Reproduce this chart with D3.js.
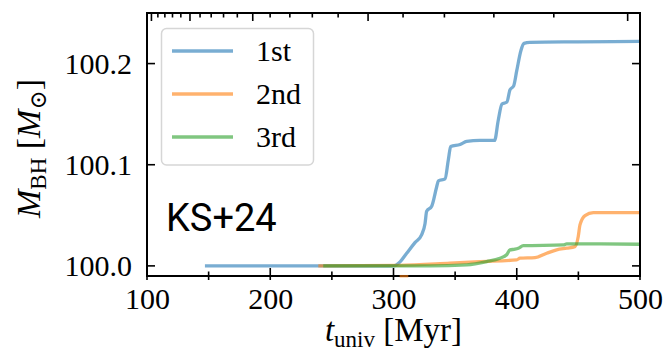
<!DOCTYPE html>
<html>
<head>
<meta charset="utf-8">
<script src="https://cdn.jsdelivr.net/npm/d3@7"></script>
<style>
  html, body { margin: 0; padding: 0; background: #fff; }
  svg { display: block; }
</style>
</head>
<body>
<svg id="chart" width="666" height="363"></svg>
<script>
// Black hole mass growth of the three most massive seeds (time in Myr)
const firstT  = [147, 300, 305.3, 310.7, 317.4, 322.9, 325.6, 326.9, 331, 335, 336.4, 341.8, 344.5, 346.4, 354, 359.4, 370, 382, 385, 388, 392, 394.5, 397.5, 400, 403.4, 405.9, 410.7, 450, 500];
const firstM  = [100, 100, 100.004, 100.0125, 100.023, 100.031, 100.042, 100.054, 100.059, 100.078, 100.084, 100.086, 100.105, 100.118, 100.120, 100.123, 100.124, 100.124, 100.144, 100.160, 100.162, 100.174, 100.178, 100.193, 100.213, 100.220, 100.221, 100.2215, 100.222];

const secondT = [239, 305, 345.8, 370.2, 400, 402.6, 414.8, 424.3, 432.4, 440.5, 447.2, 449.9, 451.3, 455.4, 462.1, 500];
const secondM = [100, 100.0005, 100.0027, 100.0042, 100.006, 100.0076, 100.0082, 100.0125, 100.0158, 100.0175, 100.019, 100.029, 100.0405, 100.0497, 100.0526, 100.0526];
// short excursion of the 2nd seed down to the axis floor
const secondDipT = [305, 312];
const secondDipM = [99.9898, 99.9898];

const thirdT  = [243, 330, 359.4, 375.6, 386.4, 391.8, 394.5, 398.6, 401.3, 405.3, 437.8, 440.5, 467.5, 500];
const thirdM  = [100, 100, 100.001, 100.0042, 100.0076, 100.011, 100.0158, 100.0165, 100.0175, 100.020, 100.0207, 100.0217, 100.0217, 100.0214];

const seriesNames  = ["1st", "2nd", "3rd"];
const seriesColors = ["#1f77b4", "#ff7f0e", "#2ca02c"];

const xTicks = [100, 200, 300, 400, 500];
const xMinorTicks = [150, 250, 350, 450];
const yTicks = [100.0, 100.1, 100.2];
const zTicks = d3.range(10, 31);        // redshift ticks on the top axis
const zMajor = [10, 15, 20, 25, 30];

const serif = "Liberation Serif, DejaVu Serif, serif";
const svg = d3.select("#chart");
const L = 147, R = 640, T = 13, B = 276;

const x = d3.scaleLinear().domain([100, 500]).range([L, R]);
const y = d3.scaleLinear().domain([99.99, 100.25]).range([B, T]);

// cosmic age (Myr) at redshift z, flat LCDM
const ageAt = z => 12016 * Math.asinh(1.4881 * Math.pow(1 + z, -1.5));

svg.append("defs").append("clipPath").attr("id", "plotClip")
  .append("rect").attr("x", L).attr("y", T).attr("width", R - L).attr("height", B - T);

const line = d3.line()
  .x(d => x(d[0])).y(d => y(d[1]))
  .curve(d3.curveMonotoneX);

const plot = svg.append("g").attr("clip-path", "url(#plotClip)");
const series = [
  d3.zip(firstT, firstM),
  d3.zip(secondT, secondM),
  d3.zip(thirdT, thirdM)
];
series.forEach((pts, i) => {
  plot.append("path").datum(pts)
    .attr("d", line)
    .attr("fill", "none")
    .attr("stroke", seriesColors[i])
    .attr("stroke-opacity", 0.6)
    .attr("stroke-width", 3.3)
    .attr("stroke-linejoin", "round");
});

// frame
svg.append("rect").attr("x", L).attr("y", T).attr("width", R - L).attr("height", B - T)
  .attr("fill", "none").attr("stroke", "#000").attr("stroke-width", 2);

// dip segment sits on the bottom spine
svg.append("path").datum(d3.zip(secondDipT, secondDipM))
  .attr("d", line)
  .attr("fill", "none")
  .attr("stroke", seriesColors[1])
  .attr("stroke-opacity", 0.6)
  .attr("stroke-width", 2.5);

// bottom axis
const bottom = svg.append("g").attr("transform", `translate(0,${B})`);
bottom.call(d3.axisBottom(x).tickValues(xTicks).tickSizeInner(0).tickSizeOuter(0).tickPadding(12).tickFormat(d3.format("d")));
bottom.select(".domain").remove();
bottom.selectAll(".tick text").attr("font-size", 30).attr("fill", "#000").attr("font-family", serif);
xTicks.forEach(t => bottom.append("line").attr("x1", x(t)).attr("x2", x(t)).attr("y1", -8).attr("y2", 4).attr("stroke", "#000").attr("stroke-width", 1.6));
xMinorTicks.forEach(t => bottom.append("line").attr("x1", x(t)).attr("x2", x(t)).attr("y1", -4.5).attr("y2", 4).attr("stroke", "#000").attr("stroke-width", 1.6));

// left axis
const left = svg.append("g").attr("transform", `translate(${L},0)`);
left.call(d3.axisLeft(y).tickValues(yTicks).tickSizeInner(0).tickSizeOuter(0).tickPadding(15).tickFormat(d3.format(".1f")));
left.select(".domain").remove();
left.selectAll(".tick text").attr("font-size", 30).attr("fill", "#000").attr("font-family", serif);
yTicks.forEach(v => {
  svg.append("line").attr("x1", L).attr("x2", L + 8).attr("y1", y(v)).attr("y2", y(v)).attr("stroke", "#000").attr("stroke-width", 1.6);
  svg.append("line").attr("x1", R - 8).attr("x2", R).attr("y1", y(v)).attr("y2", y(v)).attr("stroke", "#000").attr("stroke-width", 1.6);
});

// top redshift axis (ticks only)
zTicks.forEach(z => {
  const xp = x(ageAt(z));
  if (xp < L || xp > R) return;
  const len = zMajor.includes(z) ? 8 : 4.5;
  svg.append("line").attr("x1", xp).attr("x2", xp).attr("y1", T).attr("y2", T + len).attr("stroke", "#000").attr("stroke-width", 1.6);
});

// axis titles
const xl = svg.append("text").attr("x", (L + R) / 2).attr("y", 341).attr("text-anchor", "middle")
  .attr("font-family", serif).attr("font-size", 33).attr("fill", "#000");
xl.append("tspan").attr("font-style", "italic").text("t");
xl.append("tspan").attr("font-size", 23).attr("dy", 6).text("univ");
xl.append("tspan").attr("dy", -6).text(" [Myr]");

const yl = svg.append("text").attr("transform", `translate(40,${(T + B) / 2 + 4}) rotate(-90)`).attr("text-anchor", "middle")
  .attr("font-family", serif).attr("font-size", 34).attr("fill", "#000");
yl.append("tspan").attr("font-style", "italic").text("M");
yl.append("tspan").attr("font-size", 23).attr("dy", 6).text("BH");
yl.append("tspan").attr("dy", -6).text(" [");
yl.append("tspan").attr("font-style", "italic").text("M");
yl.append("tspan").attr("font-size", 23).attr("dy", 6).text("⊙");
yl.append("tspan").attr("dy", -6).text("]");

// legend
const lg = svg.append("g");
lg.append("rect").attr("x", 161.5).attr("y", 28.5).attr("width", 152).attr("height", 136.5)
  .attr("rx", 5).attr("fill", "#fff").attr("fill-opacity", 0.8).attr("stroke", "#d6d6d6").attr("stroke-width", 1.5);
seriesNames.forEach((name, i) => {
  const ly = 51 + i * 43;
  lg.append("line").attr("x1", 172).attr("x2", 233).attr("y1", ly).attr("y2", ly)
    .attr("stroke", seriesColors[i]).attr("stroke-opacity", 0.6).attr("stroke-width", 3.3);
  lg.append("text").attr("x", 256).attr("y", ly + 10)
    .attr("font-family", serif).attr("font-size", 30).attr("fill", "#000").text(name);
});

// run label
svg.append("text").attr("x", 166).attr("y", 231)
  .attr("font-family", "Roboto, Liberation Sans, sans-serif").attr("font-size", 38).attr("fill", "#000").text("KS+24");
</script>
</body>
</html>
